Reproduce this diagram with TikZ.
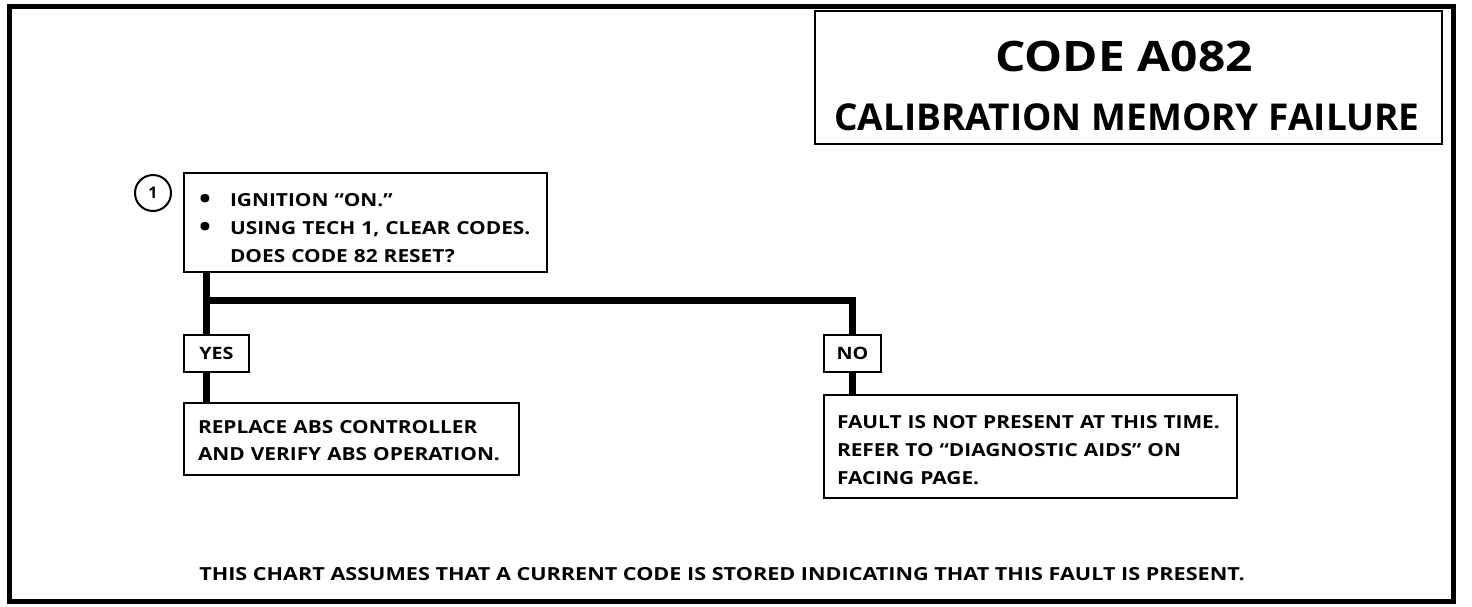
\documentclass[tikz,border=0pt]{standalone}
\usepackage{fontspec}
\setmainfont{Open Sans}
\newfontfamily\bodyfont[FakeStretch=1.16]{Open Sans}
\newfontfamily\titlefont[FakeStretch=1.14]{Open Sans}
\newfontfamily\footfont[FakeStretch=1.2]{Open Sans}
\newcommand{\bul}{\makebox[32pt][l]{\hspace{1pt}\raisebox{-2pt}{\scalebox{1.5}{\textbullet}}}}
\begin{document}
\begin{tikzpicture}[x=1pt,y=-1pt,
  box/.style={draw,line width=2pt,anchor=north west,inner ysep=0pt,align=left,font=\bodyfont\bfseries\fontsize{18}{28}\selectfont},
  lbl/.style={draw,line width=2pt,anchor=north west,inner sep=0pt,font=\bodyfont\bfseries\fontsize{17}{20}\selectfont},
  conn/.style={line width=7pt}]
\useasboundingbox (0,0) rectangle (1472,606);
\draw[line width=5pt] (9,6) rectangle (1453,601);
% title
\node[draw,line width=2pt,anchor=north west,minimum width=627pt,minimum height=133pt,inner sep=0pt] (title) at (814,10) {};
\node[font=\titlefont\bfseries\fontsize{42}{42}\selectfont] (t1) at (1124,56) {CODE A082};
\node[font=\bfseries\fontsize{37}{37}\selectfont] (t2) at (1127,117) {CALIBRATION MEMORY FAILURE};
% step 1
\node[draw,circle,line width=2pt,minimum size=36pt,inner sep=0pt,font=\bfseries\fontsize{16}{16}\selectfont] (c1) at (153,193) {1};
\node[box,inner xsep=14pt,text width=335pt] (b1) at (183,172)
 {\rule{0pt}{33.5pt}\bul IGNITION “ON.”\\
  \bul USING TECH 1, CLEAR CODES.\\
  \hspace*{32pt}DOES CODE 82 RESET?\rule[-9.5pt]{0pt}{9.5pt}};
% yes / no
\node[lbl,minimum width=65pt,minimum height=37pt] (yes) at (183,334) {YES};
\node[lbl,minimum width=57pt,minimum height=37pt] (no) at (823,334) {NO};
\node[box,inner xsep=14pt,text width=307pt] (repl) at (183,402)
 {\rule{0pt}{30.5pt}REPLACE ABS CONTROLLER\\[-1pt]AND VERIFY ABS OPERATION.\rule[-14.5pt]{0pt}{14.5pt}};
\node[box,inner xsep=13pt,text width=387pt] (fault) at (823,394)
 {\rule{0pt}{33.5pt}FAULT IS NOT PRESENT AT THIS TIME.\\REFER TO “DIAGNOSTIC AIDS” ON\\FACING PAGE.\rule[-13.5pt]{0pt}{13.5pt}};
% connectors
\coordinate (j) at ([xshift=23pt]b1.south west |- 0,300);
\draw[conn] ([xshift=23pt]b1.south west) -- ([xshift=23pt]yes.north west);
\draw[conn] (j) -| (no.north);
\draw[conn] ([xshift=23pt]yes.south west) -- ([xshift=23pt]repl.north west);
\draw[conn] (no.south) -- (no.south |- fault.north);
% footer
\node[font=\footfont\bfseries\fontsize{18}{18}\selectfont] (foot) at (722,574) {THIS CHART ASSUMES THAT A CURRENT CODE IS STORED INDICATING THAT THIS FAULT IS PRESENT.};
\end{tikzpicture}
\end{document}
